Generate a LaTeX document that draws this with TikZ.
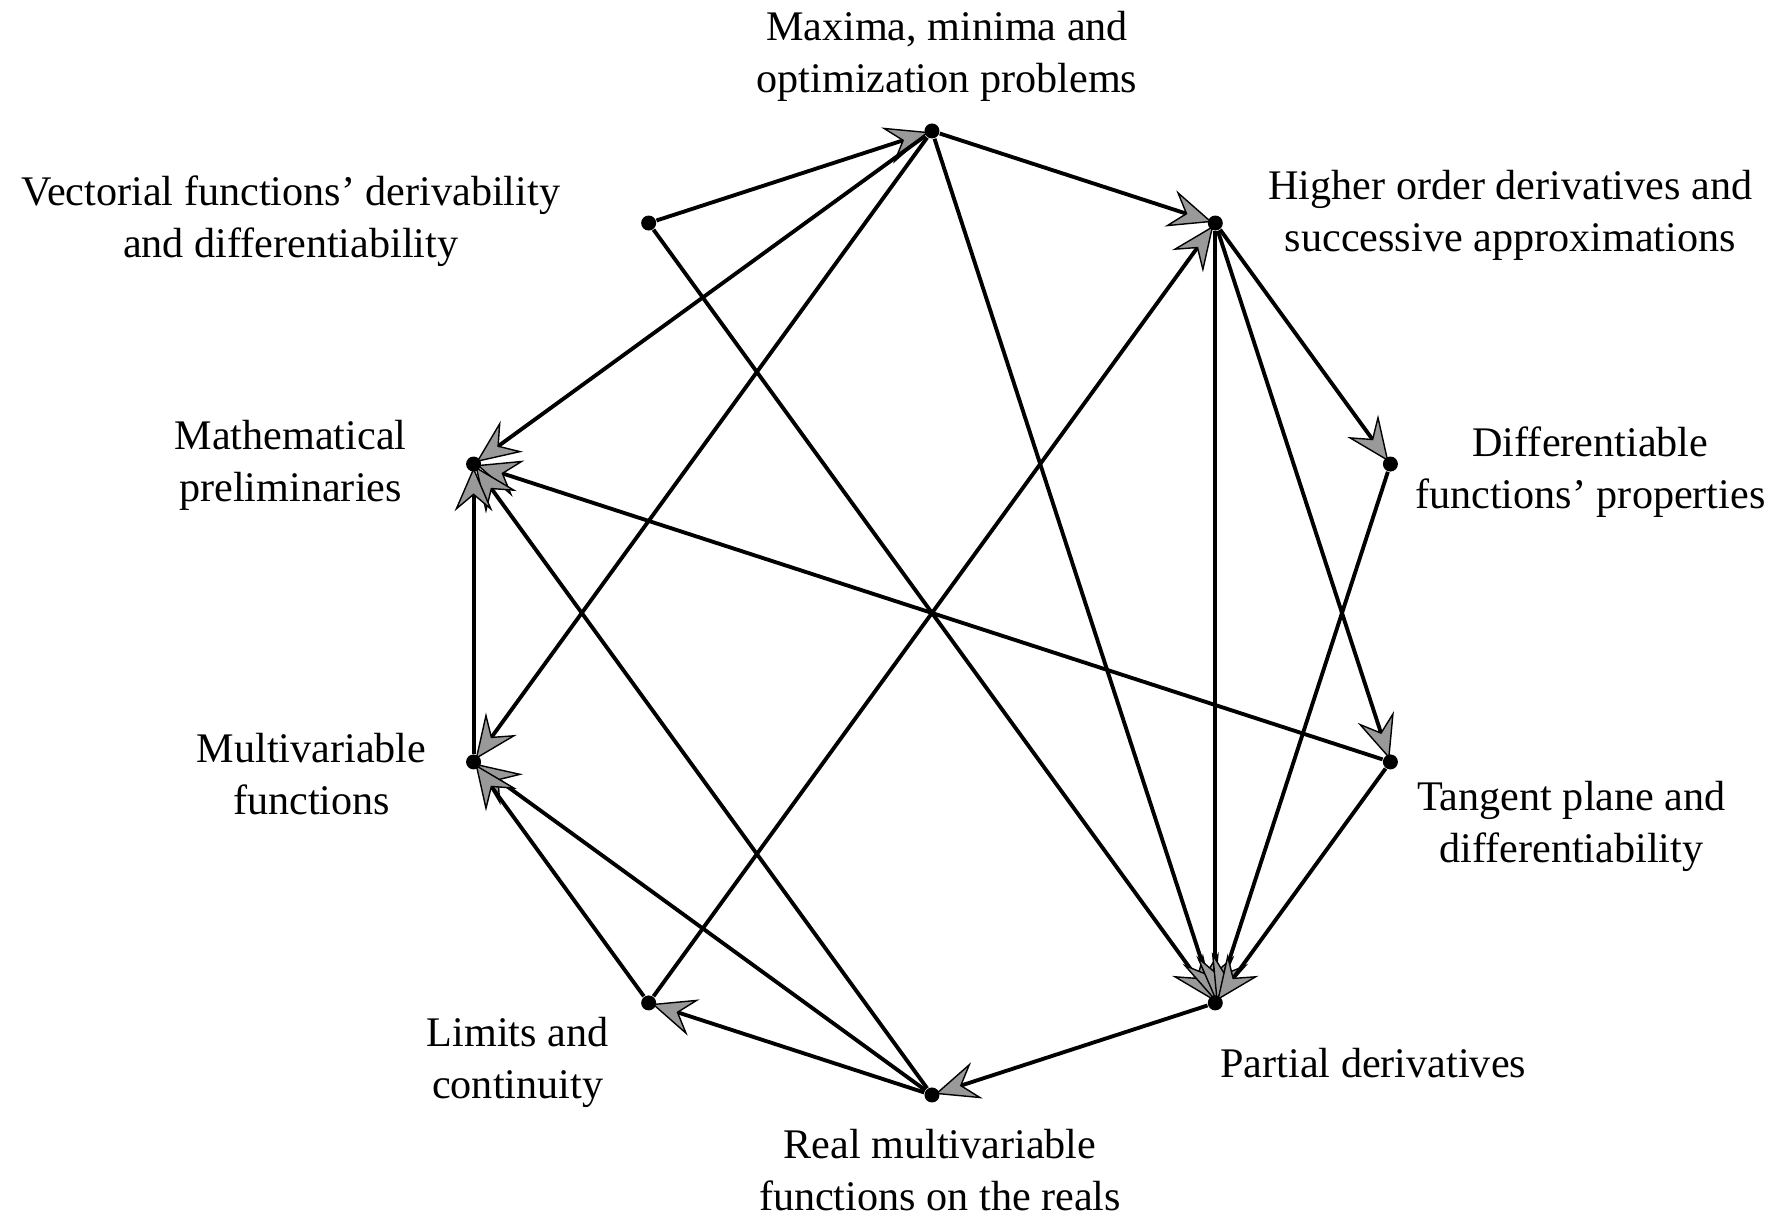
\documentclass[tikz,border=0pt]{standalone}
\usepackage{fontspec}
\setmainfont{Liberation Serif}
\usetikzlibrary{arrows.meta}
\usetikzlibrary{positioning}
\tikzset{>={Stealth[length=4.4mm, width=3.8mm, inset=1.6mm, fill=black!40, line width=0.4pt]}}

\begin{document}
\begin{tikzpicture}[
            topic/.style={circle, fill=black, minimum size=1.5mm, inner sep=0pt},
            caption/.style={align=center, font=\fontsize{12}{14.8}\selectfont, inner sep=0pt},
            link/.style={->, line width=1.1pt, shorten >=-0.5mm},
            on grid
        ]
        \useasboundingbox (-9.32,-6.03) rectangle (8.45,6.13);
        \node[topic] (maxima) at (90:4.82) {};
        \node[topic] (higher) at (54:4.82) {};
        \node[topic] (diffprop) at (18:4.82) {};
        \node[topic] (tangent) at (-18:4.82) {};
        \node[topic] (partial) at (-54:4.82) {};
        \node[topic] (realfun) at (-90:4.82) {};
        \node[topic] (limits) at (-126:4.82) {};
        \node[topic] (multivar) at (-162:4.82) {};
        \node[topic] (prelim) at (162:4.82) {};
        \node[topic] (vectorial) at (126:4.82) {};
        \node[caption, above right = 0.75cm and 0.15cm of maxima] (maximatext) {Maxima, minima and\\optimization problems};
        \node[caption, above right = 0.08cm and 2.95cm of higher] (highertext) {Higher order derivatives and\\successive approximations};
        \node[caption, below right = 0.08cm and 2cm of diffprop] (diffproptext) {Differentiable\\functions' properties};
        \node[caption, below right = 0.64cm and 1.81cm of tangent] (tangenttext) {Tangent plane and\\differentiability};
        \node[caption, below right = 0.6cm and 1.58cm of partial] (partialtext) {Partial derivatives};
        \node[caption, below right = 0.75cm and 0.08cm of realfun] (realfuntext) {Real multivariable\\functions on the reals};
        \node[caption, below left = 0.59cm and 1.31cm of limits] (limitstext) {Limits and\\continuity};
        \node[caption, below left = 0.12cm and 1.62cm of multivar] (multivartext) {Multivariable\\functions};
        \node[caption, below left = 0.01cm and 1.83cm of prelim] (prelimtext) {Mathematical\\preliminaries};
        \node[caption, above left = 0.02cm and 3.58cm of vectorial] (vectorialtext) {Vectorial functions' derivability\\and differentiability};
        \path[link] (vectorial) edge (maxima);
        \path[link] (vectorial) edge (partial);
        \path[link] (maxima) edge (higher);
        \path[link] (maxima) edge (prelim);
        \path[link] (maxima) edge (multivar);
        \path[link] (maxima) edge (partial);
        \path[link] (higher) edge (diffprop);
        \path[link] (higher) edge (tangent);
        \path[link] (higher) edge (partial);
        \path[link] (limits) edge (higher);
        \path[link] (diffprop) edge (partial);
        \path[link] (tangent) edge (partial);
        \path[link] (tangent) edge (prelim);
        \path[link] (partial) edge (realfun);
        \path[link] (realfun) edge (limits);
        \path[link] (realfun) edge (multivar);
        \path[link] (realfun) edge (prelim);
        \path[link] (limits) edge (multivar);
        \path[link] (multivar) edge (prelim);
\end{tikzpicture}
\end{document}
